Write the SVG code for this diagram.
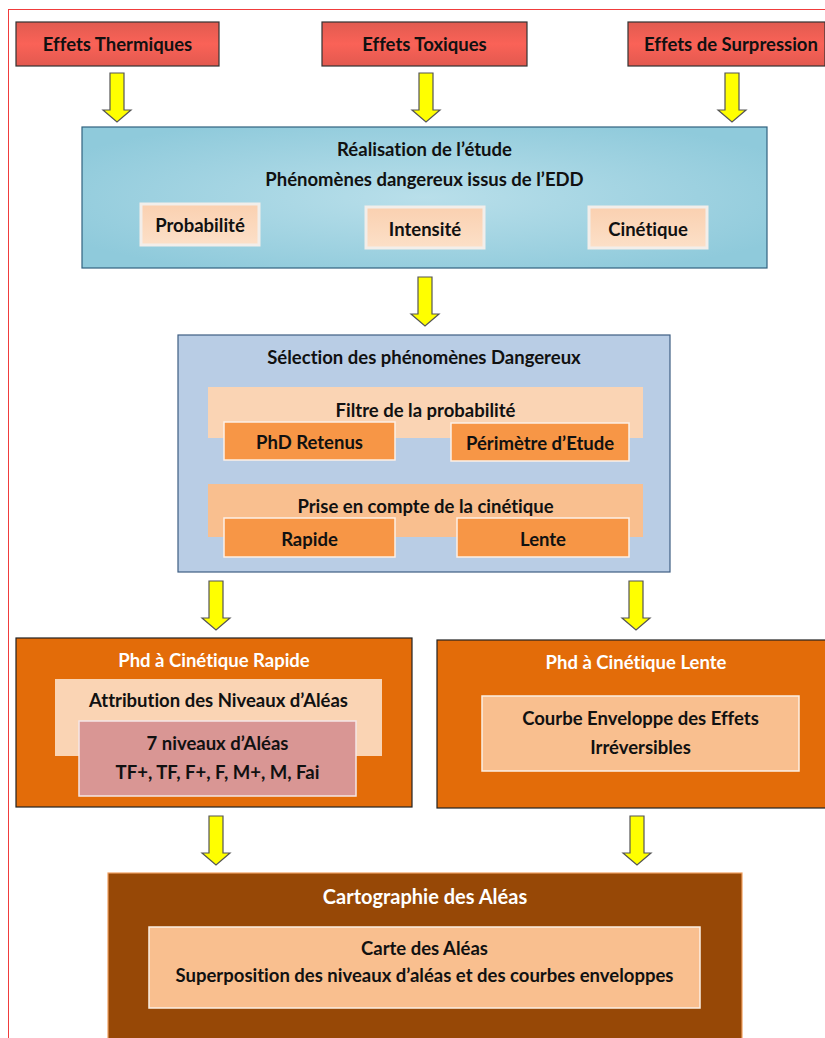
<svg xmlns="http://www.w3.org/2000/svg" width="825" height="1038" viewBox="0 0 825 1038">
<defs>
<radialGradient id="gBlue" cx="0.5" cy="0.5" r="0.6">
<stop offset="0" stop-color="#B9DFEA"/><stop offset="1" stop-color="#8FCADB"/>
</radialGradient>
<linearGradient id="gRed" x1="0" y1="0" x2="0" y2="1">
<stop offset="0" stop-color="#E15B50"/><stop offset="0.5" stop-color="#FA6257"/><stop offset="1" stop-color="#E2594F"/>
</linearGradient>
<linearGradient id="gPeach" x1="0" y1="0" x2="0" y2="1">
<stop offset="0" stop-color="#FAD0B0"/><stop offset="1" stop-color="#FCE0C8"/>
</linearGradient>
<path id="arr" d="M-7,0 H7 V37 H14 L0,49 L-14,37 H-7 Z"/>
</defs>
<style>
text{font-family:Lato,"Open Sans","Liberation Sans",sans-serif;font-weight:700;font-size:18.5px;text-anchor:middle;fill:#111;font-variant-ligatures:none;font-feature-settings:"liga" 0,"dlig" 0}
.w{fill:#fff}
.t20{font-size:20px}
.red{fill:url(#gRed);stroke:#333;stroke-width:1.2}
.sm{fill:url(#gPeach);stroke:#F2EEEA;stroke-width:3}
.band1{fill:#FAD4B4}
.band2{fill:#F9BF8F}
.org{fill:#F79646;stroke:#FDF0E6;stroke-width:1.5}
.big{fill:#E36C09;stroke:#222;stroke-width:1.2}
.inner{fill:#F9BF8F;stroke:#FCEFE4;stroke-width:1.5}
.arrow{fill:#FFFF00;stroke:#555;stroke-width:1.2}
</style>
<rect x="8.5" y="9.5" width="830" height="1040" fill="none" stroke="#F03C3C" stroke-width="1"/>

<g id="effets-thermiques"><rect class="red" x="16" y="22" width="203" height="44"/><text x="117.5" y="51">Effets Thermiques</text></g>
<g id="effets-toxiques"><rect class="red" x="322" y="22" width="205" height="44"/><text x="424.5" y="51">Effets Toxiques</text></g>
<g id="effets-surpression"><rect class="red" x="628" y="22" width="197" height="44"/><text x="731" y="51">Effets de Surpression</text></g>

<g id="realisation">
<rect x="82" y="127" width="685" height="141" fill="url(#gBlue)" stroke="#31627F" stroke-width="1.2"/>
<text x="424.5" y="156">Réalisation de l’étude</text>
<text x="424.5" y="186">Phénomènes dangereux issus de l’EDD</text>
<g id="probabilite"><rect class="sm" x="141" y="204" width="118" height="41"/><text x="200" y="232">Probabilité</text></g>
<g id="intensite"><rect class="sm" x="366" y="207" width="118" height="41"/><text x="425" y="236">Intensité</text></g>
<g id="cinetique"><rect class="sm" x="589" y="207" width="118" height="41"/><text x="648" y="236">Cinétique</text></g>
</g>

<g id="selection">
<rect x="178" y="335" width="492" height="237" fill="#B9CDE5" stroke="#3E5E82" stroke-width="1.2"/>
<text x="424" y="364">Sélection des phénomènes Dangereux</text>
<rect class="band1" x="208" y="387" width="435" height="51"/>
<text x="425.5" y="417">Filtre de la probabilité</text>
<g id="phd-retenus"><rect class="org" x="224" y="422" width="171" height="38"/><text x="309.5" y="449">PhD Retenus</text></g>
<g id="perimetre"><rect class="org" x="451" y="423" width="178" height="38"/><text x="540" y="450">Périmètre d’Etude</text></g>
<rect class="band2" x="208" y="484" width="435" height="53"/>
<text x="425.5" y="513">Prise en compte de la cinétique</text>
<g id="rapide"><rect class="org" x="224" y="518" width="171" height="39"/><text x="309.5" y="546">Rapide</text></g>
<g id="lente"><rect class="org" x="457" y="518" width="172" height="39"/><text x="543" y="546">Lente</text></g>
</g>

<g id="phd-rapide">
<rect class="big" x="16" y="638" width="396" height="169"/>
<text class="w" x="214" y="667">Phd à Cinétique Rapide</text>
<rect class="band1" x="55" y="679" width="327" height="77"/>
<text x="218.5" y="707">Attribution des Niveaux d’Aléas</text>
<rect x="79" y="721" width="277" height="75" fill="#D99694" stroke="#F5E6E6" stroke-width="1.5"/>
<text x="217.5" y="750">7 niveaux d’Aléas</text>
<text x="217.5" y="779">TF+, TF, F+, F, M+, M, Fai</text>
</g>

<g id="phd-lente">
<rect class="big" x="437" y="640" width="400" height="168"/>
<text class="w" x="636" y="669">Phd à Cinétique Lente</text>
<rect class="inner" x="482" y="696" width="317" height="75"/>
<text x="640.5" y="725">Courbe Enveloppe des Effets</text>
<text x="640.5" y="754">Irréversibles</text>
</g>

<g id="cartographie">
<rect x="108" y="873" width="634" height="180" fill="#974806" stroke="#F0A060" stroke-width="1.2"/>
<text class="w t20" x="425" y="904">Cartographie des Aléas</text>
<rect class="inner" x="149" y="927" width="551" height="81"/>
<text x="424.5" y="955">Carte des Aléas</text>
<text x="424.5" y="982">Superposition des niveaux d’aléas et des courbes enveloppes</text>
</g>

<g id="connectors">
<use href="#arr" class="arrow" x="117" y="73"/>
<use href="#arr" class="arrow" x="426" y="73"/>
<use href="#arr" class="arrow" x="732" y="73"/>
<use href="#arr" class="arrow" x="425" y="277"/>
<use href="#arr" class="arrow" x="216" y="581"/>
<use href="#arr" class="arrow" x="636" y="581"/>
<use href="#arr" class="arrow" x="216" y="816"/>
<use href="#arr" class="arrow" x="637" y="816"/>
</g>
</svg>
